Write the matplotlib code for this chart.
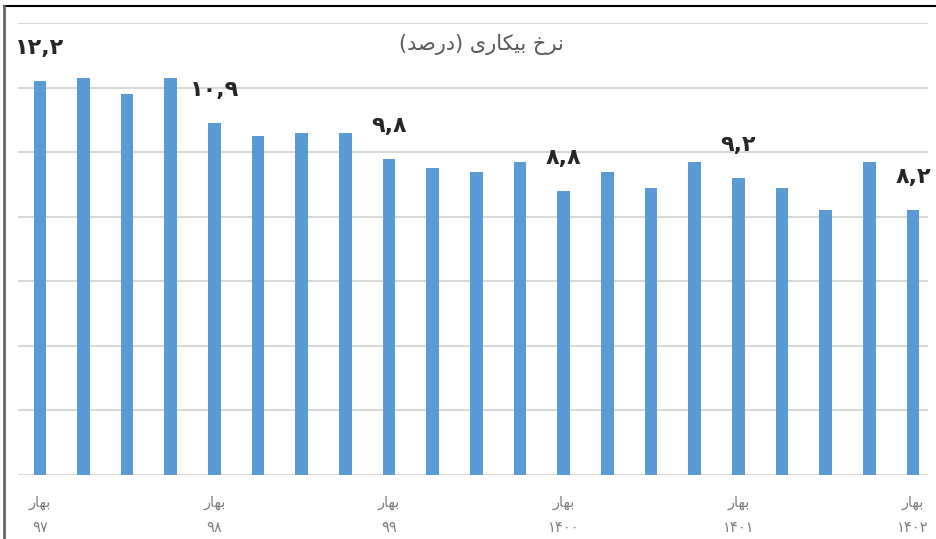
import matplotlib
matplotlib.use("Agg")
import matplotlib.pyplot as plt
from matplotlib.lines import Line2D

# نرخ بیکاری فصلی، بهار ۹۷ تا بهار ۱۴۰۲
values = [12.2, 12.3, 11.8, 12.3, 10.9, 10.5, 10.6, 10.6, 9.8, 9.5, 9.4,
          9.7, 8.8, 9.4, 8.9, 9.7, 9.2, 8.9, 8.2, 9.7, 8.2]
years = ["۹۷", "۹۸", "۹۹", "۱۴۰۰", "۱۴۰۱", "۱۴۰۲"]
spring_idx = [0, 4, 8, 12, 16, 20]

# matplotlib has no Arabic shaping / bidi, so strings are pre-shaped
# (presentation forms) and written in visual left-to-right order
BAHAR = "\uFEAD\uFE8E\uFEEC\uFE91"
TITLE = ("(\uFEAA\uFEBB\uFEAD\uFEA9) "
         "\uFEEF\uFEAD\uFE8E\uFB91\uFEF4\uFE91 "
         "\uFEA5\uFEAE\uFEE7")

FA_DIGITS = str.maketrans("0123456789", "۰۱۲۳۴۵۶۷۸۹")


def fa_num(v):
    return f"{v:.1f}".replace(".", ",").translate(FA_DIGITS)


plt.rcParams["font.family"] = ["DejaVu Sans"]

fig = plt.figure(figsize=(9.36, 5.39), dpi=100)
ax = fig.add_axes([18 / 936, 64 / 539, 910 / 936, 452 / 539])

x = list(range(len(values)))
ax.bar(x, values, width=0.29, color="#5b9bd5", zorder=2)

ax.set_ylim(0, 14)
ax.set_xlim(-0.5, 20.34)
ax.set_yticks(range(0, 15, 2))
ax.yaxis.grid(True, color="#d9d9d9", linewidth=1.5, zorder=0)
ax.tick_params(left=False, bottom=False, labelleft=False)
for s in ax.spines.values():
    s.set_visible(False)
ax.axhline(0, color="#d9d9d9", linewidth=1.5, zorder=1)

ax.set_xticks(spring_idx)
ax.set_xticklabels([f"{BAHAR}\n{y}" for y in years], fontsize=10.5,
                   color="#7f7f7f", linespacing=1.85)
ax.tick_params(axis="x", pad=11)

for i in spring_idx:
    ax.text(i, values[i] + 1.02, fa_num(values[i]), ha="center", va="center",
            fontsize=16, fontweight="bold", color="#262626")

ax.text(0.509, 0.952, TITLE, transform=ax.transAxes, ha="center",
        va="center", fontsize=15, color="#595959")

# frame lines on the top and left edge
fig.add_artist(Line2D([4 / 936, 1], [1 - 6 / 539] * 2, color="black",
                      linewidth=1.5, transform=fig.transFigure))
fig.add_artist(Line2D([4 / 936] * 2, [0, 1 - 6 / 539], color="#666666",
                      linewidth=2, transform=fig.transFigure))

fig.savefig("out.png", dpi=100)
plt.close(fig)
